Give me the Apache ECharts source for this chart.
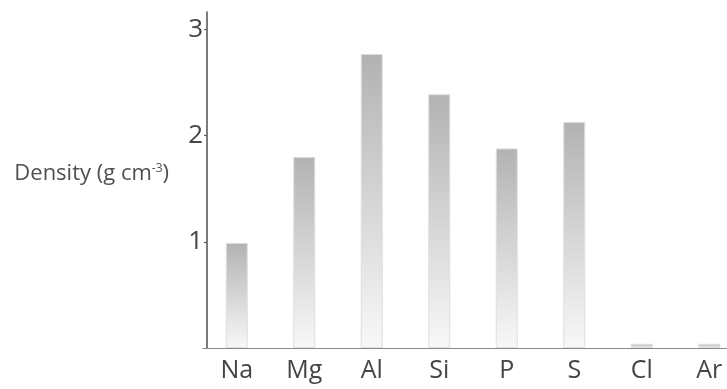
<!DOCTYPE html>
<html>
<head>
<meta charset="utf-8">
<script src="https://cdn.jsdelivr.net/npm/echarts@6/dist/echarts.min.js"></script>
<style>html,body{margin:0;padding:0;background:#fff}#c{width:727px;height:389px}</style>
</head>
<body>
<div id="c"></div>
<script>
const categories = ['Na', 'Mg', 'Al', 'Si', 'P', 'S', 'Cl', 'Ar'];
const density = [0.99, 1.80, 2.77, 2.39, 1.88, 2.13, 0.04, 0.04];
const yTickValues = [1, 2, 3];

const chart = echarts.init(document.getElementById('c'), null, {renderer: 'canvas'});
chart.setOption({
  animation: false,
  backgroundColor: '#ffffff',
  grid: {left: 203, right: -16, top: 12, bottom: 41, containLabel: false, outerBoundsMode: 'none'},
  xAxis: {
    type: 'category',
    data: categories,
    axisLine: {lineStyle: {color: '#8a8a8a', width: 1.2}},
    axisTick: {show: false},
    axisLabel: {fontFamily: 'Open Sans', fontSize: 25, color: '#454545', margin: 10}
  },
  yAxis: {
    type: 'value',
    min: 0,
    max: 3.165,
    offset: -4,
    splitLine: {show: false},
    axisLine: {show: true, lineStyle: {color: '#5a5a5a', width: 1.6}},
    axisTick: {show: true, length: 3, customValues: yTickValues, lineStyle: {color: '#5a5a5a', width: 1.2}},
    axisLabel: {customValues: yTickValues, fontFamily: 'Open Sans', fontSize: 26, color: '#454545', margin: 4},
    name: 'Density (g cm{sup|-3})',
    nameLocation: 'middle',
    nameRotate: 0,
    nameGap: 38,
    nameTextStyle: {
      fontFamily: 'Open Sans', fontSize: 22, color: '#505050', align: 'right', padding: [0, 0, 12, 0],
      rich: {sup: {fontFamily: 'Open Sans', fontSize: 12, color: '#505050', padding: [0, 0, 11, 0]}}
    }
  },
  series: [{
    type: 'bar',
    data: density,
    barWidth: 22,
    itemStyle: {
      color: new echarts.graphic.LinearGradient(0, 0, 0, 1, [
        {offset: 0, color: '#b2b2b2'},
        {offset: 1, color: '#f8f8f8'}
      ]),
      borderColor: '#dedede',
      borderWidth: 1
    }
  }]
});
</script>
</body>
</html>
